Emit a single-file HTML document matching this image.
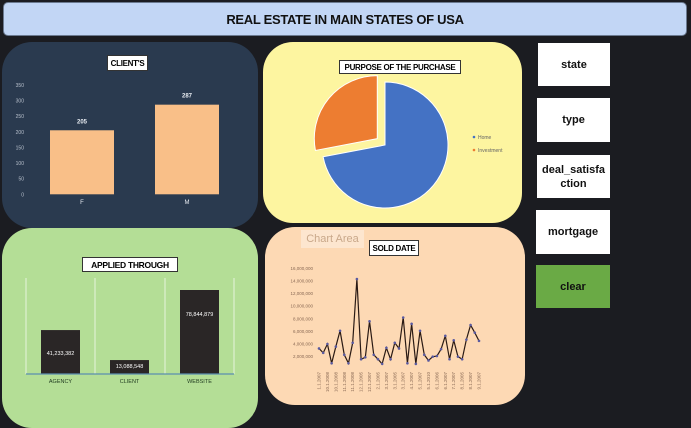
<!DOCTYPE html>
<html><head><meta charset="utf-8">
<style>
html,body{margin:0;padding:0;}
body{width:691px;height:412px;background:#1b1c21;position:relative;overflow:hidden;font-family:"Liberation Sans",sans-serif;}
.abs{position:absolute;}
.panel{position:absolute;border-radius:30px;overflow:hidden;}
.btn{position:absolute;background:#fff;display:flex;align-items:center;justify-content:center;text-align:center;font-weight:bold;font-size:11px;color:#111;line-height:14px;}
.tbox{position:absolute;background:#fff;border:1px solid #333;font-weight:bold;font-size:8px;letter-spacing:-0.3px;color:#000;display:flex;align-items:center;justify-content:center;white-space:nowrap;overflow:hidden;}
svg{position:absolute;left:0;top:0;}
</style></head><body>
<div class="abs" style="left:3px;top:2px;width:682px;height:32px;background:#c2d6f5;border:1px solid #6b7a90;border-radius:5px;display:flex;align-items:center;justify-content:center;font-weight:bold;font-size:13px;letter-spacing:-0.3px;color:#111;">REAL ESTATE IN MAIN STATES OF USA</div>

<div class="panel" style="left:2px;top:42px;width:256px;height:186px;background:#2a3a4f;"></div>
<div class="panel" style="left:263px;top:42px;width:259px;height:181px;background:#fdf5a0;"></div>
<div class="panel" style="left:2px;top:228px;width:256px;height:200px;background:#b4de96;"></div>
<div class="panel" style="left:265px;top:227px;width:260px;height:178px;background:#fdd9b4;"></div>

<svg id="chart" width="691" height="412"></svg>

<div class="tbox" style="left:107px;top:55px;width:39px;height:14px;">CLIENT'S</div>
<div class="tbox" style="left:339px;top:60px;width:120px;height:12px;">PURPOSE OF THE PURCHASE</div>
<div class="tbox" style="left:82px;top:257px;width:94px;height:13px;font-size:8.5px;">APPLIED THROUGH</div>
<div class="tbox" style="left:369px;top:240px;width:48px;height:14px;">SOLD DATE</div>
<div class="abs" style="left:301px;top:230px;width:63px;height:18px;background:#fde6cf;color:#c9a88a;font-size:11px;display:flex;align-items:center;justify-content:center;">Chart Area</div>

<div class="btn" style="left:538px;top:43px;width:72px;height:43px;">state</div>
<div class="btn" style="left:537px;top:98px;width:73px;height:44px;">type</div>
<div class="btn" style="left:537px;top:155px;width:73px;height:43px;">deal_satisfa<br>ction</div>
<div class="btn" style="left:536px;top:210px;width:74px;height:44px;">mortgage</div>
<div class="btn" style="left:536px;top:265px;width:74px;height:43px;background:#6aaa45;">clear</div>

<script>
const clientCats = ["F","M"];
const clientVals = [205,287];
const clientTicks = [0,50,100,150,200,250,300,350];

const pieCats = ["Home","Investment"];
const pieVals = [72,28];

const appliedCats = ["AGENCY","CLIENT","WEBSITE"];
const appliedVals = [41233382,13088548,78844879];
const appliedLabels = ["41,233,382","13,088,548","78,844,879"];

const soldVals = [3.3,2.6,4.0,0.95,3.6,6.1,2.3,0.95,4.2,14.3,1.6,1.9,7.6,2.3,1.6,0.85,3.4,1.6,4.2,3.3,8.2,0.95,7.2,0.85,6.1,2.3,1.4,2.0,2.1,3.2,5.3,1.6,4.6,2.0,1.6,4.7,7.0,5.8,4.5];
const soldLabels = ["1.1.2007","10.1.2008","10.1.2008","11.1.2008","11.1.2008","12.1.2005","12.1.2007","2.1.2005","3.1.2007","3.1.2005","3.1.2007","4.1.2007","5.1.2007","5.1.2010","6.1.2006","6.1.2007","7.1.2007","8.1.2005","8.1.2007","9.1.2007"];
const soldTicks = [2,4,6,8,10,12,14,16];

const svg = document.getElementById('chart');
const NS = "http://www.w3.org/2000/svg";
function mk(tag, attrs, parent){const e=document.createElementNS(NS,tag);for(const k in attrs)e.setAttribute(k,attrs[k]);(parent||svg).appendChild(e);return e;}
function txt(x,y,s,attrs){const t=mk('text',Object.assign({x:x,y:y},attrs));t.textContent=s;return t;}

// Clients bar chart
const cy = v => 194.3 - v*(109.3/350);
clientTicks.forEach(t=>{
  const e=txt(24,cy(t)+2,String(t),{'font-size':5,fill:'#b8c0cc','text-anchor':'end'});
  
  
});
const cxs=[50,155];
clientVals.forEach((v,i)=>{
  const r=mk('rect',{x:cxs[i],y:cy(v),width:64,height:cy(0)-cy(v),fill:'#f9bf88'});
  
  
  const l=txt(cxs[i]+32,cy(v)-7,String(v),{'font-size':6,'font-weight':'bold',fill:'#e8ecf2','text-anchor':'middle'});
  
  
  const c=txt(cxs[i]+32,204,clientCats[i],{'font-size':6,fill:'#e8ecf2','text-anchor':'middle'});
  
  
});

// Pie chart
(function(){
  const cx=385,cy0=145,r=63,total=pieVals.reduce((a,b)=>a+b,0);
  const colors=['#4472c4','#ed7d31'];
  let a0=0;
  pieVals.forEach((v,i)=>{
    const a1=a0+v/total*2*Math.PI;
    const mid=(a0+a1)/2;
    const off=i===1?10:0;
    const ox=cx+off*Math.sin(mid), oy=cy0-off*Math.cos(mid);
    const x0=ox+r*Math.sin(a0),y0=oy-r*Math.cos(a0),x1=ox+r*Math.sin(a1),y1=oy-r*Math.cos(a1);
    const large=(a1-a0)>Math.PI?1:0;
    const p=mk('path',{d:`M${ox},${oy}L${x0},${y0}A${r},${r} 0 ${large} 1 ${x1},${y1}Z`,fill:colors[i],stroke:'#fff',"stroke-width":1});
    
    
    mk('circle',{cx:474,cy:137+i*13,r:1.3,fill:colors[i]});
    const t=txt(478,139+i*13,pieCats[i],{'font-size':5,fill:'#666'});
    
    
    a0=a1;
  });
})();

// Applied through
const ay = v => 374 - v*(84/78844879);
[26,95,165,234].forEach(x=>mk('line',{x1:x,y1:278,x2:x,y2:374,stroke:'#e6f4dc','stroke-width':1}));
const axs=[41,110,180];
appliedVals.forEach((v,i)=>{
  const r=mk('rect',{x:axs[i],y:ay(v),width:39,height:374-ay(v),fill:'#2a2626'});
  
  
  const ly = i===1 ? ay(v)+8 : (ay(v)+374)/2+ (i===2?-16:3);
  const l=txt(axs[i]+19.5,ly,appliedLabels[i],{'font-size':5.5,fill:'#fff','text-anchor':'middle'});
  
  
  const c=txt(axs[i]+19.5,383,appliedCats[i],{'font-size':5.5,fill:'#1f3a1f','text-anchor':'middle'});
  
  
});
mk('line',{x1:26,y1:374,x2:234,y2:374,stroke:'#5a8fb0','stroke-width':1.2});

// Sold date line chart
const sy = v => 369.3 - v*(12.63/2);
const sx = i => 319 + i*(160/(soldVals.length-1));
soldTicks.forEach(t=>{
  const e=txt(313,sy(t)+1.5,(t*1000000).toLocaleString('en-US'),{'font-size':4.5,fill:'#8a6a55','text-anchor':'end'});
  
  
});
const pts=soldVals.map((v,i)=>sx(i)+','+sy(v)).join(' ');
const line=mk('polyline',{points:pts,fill:'none',stroke:'#2a1a14','stroke-width':1.2});


soldVals.forEach((v,i)=>{
  const c=mk('circle',{cx:sx(i),cy:sy(v),r:1.3,fill:'#5a5aa0'});
  
  
});
soldLabels.forEach((s,j)=>{
  const x=sx(j*2), y=372;
  const t=txt(x+1.5,y,s,{'font-size':4.5,fill:'#8a6a55','text-anchor':'end',transform:`rotate(-90 ${x+1.5} ${y})`});
  
  
});
</script>
</body></html>
